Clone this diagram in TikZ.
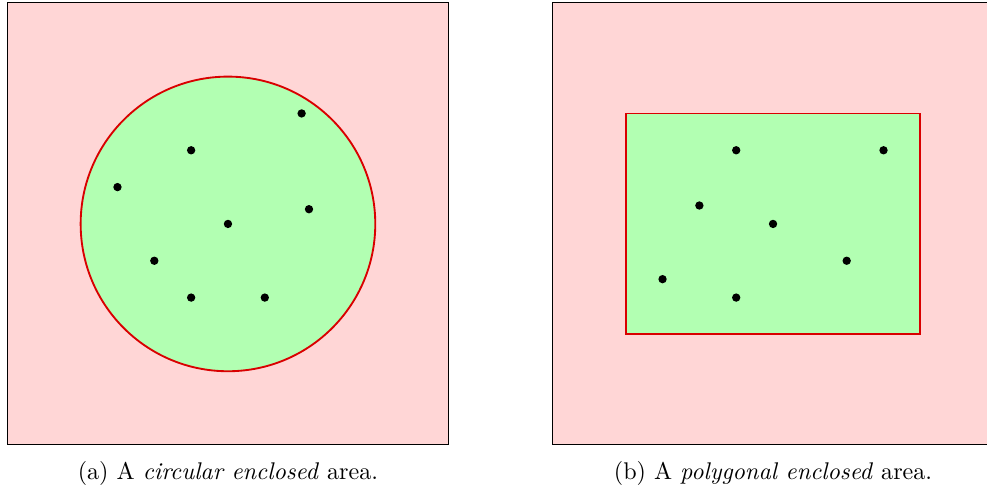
\documentclass[tikz,border=0pt]{standalone}
\begin{document}
\begin{tikzpicture}[x=0.558cm,y=0.558cm,
  outside/.style={fill=red!16,draw=black,line width=0.4pt},
  inside/.style={fill=green!30,draw=red!85!black,line width=0.8pt},
  dot/.style={circle,fill=black,inner sep=0pt,minimum size=3.6pt},
  caption/.style={font=\fontsize{10.4}{12.5}\selectfont}]
\useasboundingbox (-6.19,-7.30) rectangle (20.61,6.08);
\clip (-6.19,-7.30) rectangle (20.61,6.08);
% (a)
\draw[outside] (-6,-6) rectangle (6,6);
\draw[inside] (0,0) circle (4);
\foreach \p/\n in {{(2,3)}/a1,{(-1,2)}/a2,{(-3,1)}/a3,{(2.2,0.4)}/a4,{(0,0)}/a5,{(-2,-1)}/a6,{(-1,-2)}/a7,{(1,-2)}/a8}
  \node[dot] (\n) at \p {};
\node[caption] (capa) at (0,-6.78) {(a) A \emph{circular enclosed} area.};
% (b)
\begin{scope}[shift={(14.8,0)}]
\draw[outside] (-6,-6) rectangle (6.5,6);
\draw[inside] (-4,-3) rectangle (4,3);
\foreach \p/\n in {{(-1,2)}/b1,{(3,2)}/b2,{(-2,0.5)}/b3,{(0,0)}/b4,{(2,-1)}/b5,{(-3,-1.5)}/b6,{(-1,-2)}/b7}
  \node[dot] (\n) at \p {};
\node[caption] (capb) at (0,-6.78) {(b) A \emph{polygonal enclosed} area.};
\end{scope}
\end{tikzpicture}
\end{document}
